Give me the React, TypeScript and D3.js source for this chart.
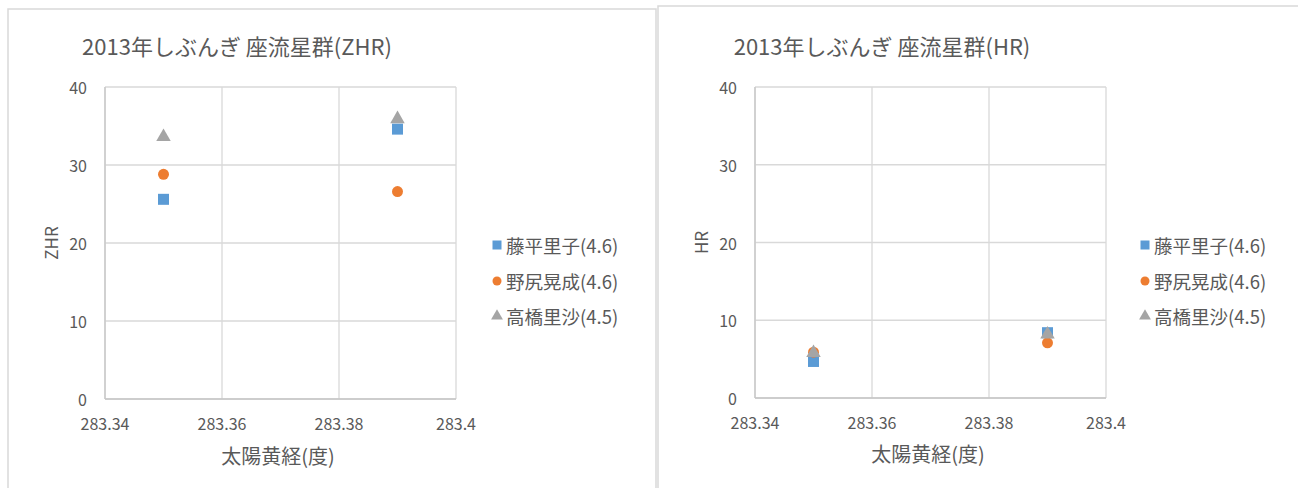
import React from "react";
import * as d3 from "d3";

const xValues = [283.35, 283.39];
const seriesNames = ["藤平里子(4.6)", "野尻晃成(4.6)", "高橋里沙(4.5)"];
const seriesColors = ["#5B9BD5", "#ED7D31", "#A5A5A5"];
const seriesShapes = ["square", "circle", "triangle"];
const zhrFujihira = [25.6, 34.6];
const zhrNojiri = [28.8, 26.6];
const zhrTakahashi = [33.6, 35.9];
const hrFujihira = [4.7, 8.4];
const hrNojiri = [5.9, 7.1];
const hrTakahashi = [5.8, 8.2];
const xTicks = [283.34, 283.36, 283.38, 283.4];
const xTickLabels = ["283.34", "283.36", "283.38", "283.4"];
const yTicks = [0, 10, 20, 30, 40];

const FONT = "'Noto Sans CJK JP', 'Noto Sans', sans-serif";
const TXT = "#595959";

type Cfg = {
  frameX: number;
  frameY: number;
  frameW: number;
  x0: number;
  x1: number;
  y0: number;
  y1: number;
  title: string;
  titleX: number;
  yTitle: string;
  yTitleX: number;
  xTitleX: number;
  xTitleY: number;
  legendX: number;
  series: number[][];
};

function Marker({ shape, x, y, color, size }: { shape: string; x: number; y: number; color: string; size: number }) {
  if (shape === "square") {
    return <rect x={x - size / 2} y={y - size / 2} width={size} height={size} fill={color} />;
  }
  if (shape === "circle") {
    return <circle cx={x} cy={y} r={size / 2} fill={color} />;
  }
  const p = d3.symbol(d3.symbolTriangle, size * size * 0.75)();
  return <path d={p || ""} transform={`translate(${x},${y})`} fill={color} />;
}

function Chart({ c }: { c: Cfg }) {
  const xs = d3.scaleLinear().domain([283.34, 283.4]).range([c.x0, c.x1]);
  const ys = d3.scaleLinear().domain([0, 40]).range([c.y0, c.y1]);
  const legendYs = [245, 281, 316];
  return (
    <g>
      <rect x={c.frameX} y={c.frameY} width={c.frameW} height={600} fill="#fff" stroke="#d9d9d9" strokeWidth={1.5} />
      <text x={c.titleX} y={45} textAnchor="middle" dominantBaseline="central" fontSize={22} fill={TXT} fontFamily={FONT}>
        {c.title}
      </text>
      {yTicks.map((t) => (
        <line key={"gy" + t} x1={c.x0} x2={c.x1} y1={ys(t)} y2={ys(t)} stroke="#d9d9d9" strokeWidth={1.3} />
      ))}
      {xTicks.map((t) => (
        <line key={"gx" + t} x1={xs(t)} x2={xs(t)} y1={c.y0} y2={c.y1} stroke="#d9d9d9" strokeWidth={1.3} />
      ))}
      <line x1={c.x0} x2={c.x1} y1={c.y0} y2={c.y0} stroke="#c6c6c6" strokeWidth={1.3} />
      <line x1={c.x0} x2={c.x0} y1={c.y0} y2={c.y1} stroke="#c6c6c6" strokeWidth={1.3} />
      {yTicks.map((t) => (
        <text key={"ty" + t} x={c.x0 - 18} y={ys(t)} textAnchor="end" dominantBaseline="central" fontSize={16} fill={TXT} fontFamily={FONT}>
          {t}
        </text>
      ))}
      {xTicks.map((t, i) => (
        <text key={"tx" + t} x={xs(t)} y={c.y0 + 24} textAnchor="middle" dominantBaseline="central" fontSize={16} fill={TXT} fontFamily={FONT}>
          {xTickLabels[i]}
        </text>
      ))}
      <text x={c.xTitleX} y={c.xTitleY} textAnchor="middle" dominantBaseline="central" fontSize={20} fill={TXT} fontFamily={FONT}>
        太陽黄経(度)
      </text>
      <text
        transform={`translate(${c.yTitleX},${(c.y0 + c.y1) / 2}) rotate(-90)`}
        textAnchor="middle"
        dominantBaseline="central"
        fontSize={17}
        fill={TXT}
        fontFamily={FONT}
      >
        {c.yTitle}
      </text>
      {c.series.map((vals, si) =>
        vals.map((v, i) => (
          <Marker key={`m${si}-${i}`} shape={seriesShapes[si]} x={xs(xValues[i])} y={ys(v)} color={seriesColors[si]} size={11} />
        ))
      )}
      {seriesNames.map((n, si) => (
        <g key={"lg" + si}>
          <Marker shape={seriesShapes[si]} x={c.legendX} y={legendYs[si]} color={seriesColors[si]} size={9} />
          <text x={c.legendX + 9} y={legendYs[si]} dominantBaseline="central" fontSize={18.5} fill={TXT} fontFamily={FONT}>
            {n}
          </text>
        </g>
      ))}
    </g>
  );
}

export default function App() {
  const left: Cfg = {
    frameX: 8,
    frameY: 9,
    frameW: 648,
    x0: 105,
    x1: 456,
    y0: 399,
    y1: 87,
    title: "2013年しぶんぎ 座流星群(ZHR)",
    titleX: 237,
    yTitle: "ZHR",
    yTitleX: 50,
    xTitleX: 278,
    xTitleY: 455,
    legendX: 497,
    series: [zhrFujihira, zhrNojiri, zhrTakahashi],
  };
  const right: Cfg = {
    frameX: 658,
    frameY: 6,
    frameW: 700,
    x0: 755,
    x1: 1106,
    y0: 398,
    y1: 87,
    title: "2013年しぶんぎ 座流星群(HR)",
    titleX: 882,
    yTitle: "HR",
    yTitleX: 700,
    xTitleX: 928,
    xTitleY: 453,
    legendX: 1145,
    series: [hrFujihira, hrNojiri, hrTakahashi],
  };
  return (
    <svg width={1298} height={488} style={{ position: "fixed", left: 0, top: 0, background: "#fff" }}>
      <rect x={0} y={0} width={1298} height={488} fill="#fff" />
      <Chart c={left} />
      <Chart c={right} />
    </svg>
  );
}
